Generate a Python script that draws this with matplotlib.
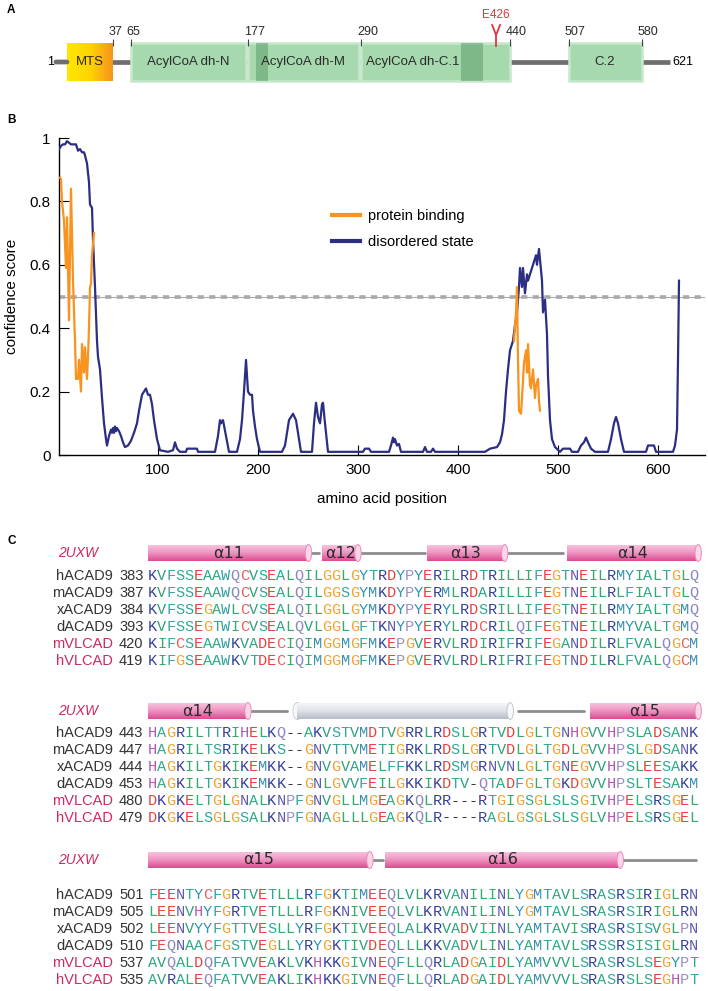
import numpy as np
import matplotlib
matplotlib.use('Agg')
import matplotlib.pyplot as plt
from matplotlib.patches import Rectangle, Ellipse
from matplotlib.lines import Line2D
from matplotlib.colors import LinearSegmentedColormap

plt.rcParams['font.family'] = ['Liberation Sans', 'DejaVu Sans']

# ---------------- panel A data ----------------
dom_names = ['MTS', 'AcylCoA dh-N', 'AcylCoA dh-M', 'AcylCoA dh-C.1', 'C.2']
dom_start = [1, 65, 177, 290, 507]
dom_end = [37, 175, 288, 440, 580]
dom_label_at = [19, 120, 232, 342, 543]
dark_start = [185, 391]
dark_end = [197, 413]
boundary_ticks = [37, 65, 177, 290, 440, 507, 580]
protein_len = 621
mut_pos = 426
mut_label = 'E426'

# ---------------- panel B data ----------------
dis_pos = [1, 3, 5, 7, 9, 11, 13, 16, 18, 20, 22, 24, 26, 27, 29, 30, 31, 32, 34, 35,
           37, 39, 40, 42, 44, 46, 48, 49, 51, 53, 54, 55, 56, 57, 58, 59, 61, 63, 65, 67,
           70, 73, 76, 79, 81, 84, 86, 88, 90, 92, 94, 96, 99, 102, 110, 115, 117, 119, 122, 128,
           129, 139, 140, 157, 160, 162, 163, 165, 168, 171, 179, 182, 184, 186, 188, 189, 190, 192, 194, 195,
           197, 199, 202, 224, 227, 231, 235, 238, 241, 243, 254, 256, 258, 260, 262, 264, 265, 267, 270, 305,
           307, 311, 313, 331, 333, 335, 336, 337, 339, 341, 343, 365, 367, 369, 373, 375, 377, 427, 432, 439,
           442, 444, 446, 448, 450, 452, 455, 457, 459, 461, 462, 464, 465, 467, 469, 470, 472, 474, 476, 478,
           479, 481, 484, 485, 487, 489, 490, 492, 494, 497, 502, 505, 512, 514, 520, 523, 526, 528, 530, 533,
           537, 550, 553, 556, 558, 560, 563, 566, 588, 590, 596, 598, 615, 617, 619, 620, 621]
dis_val = [0.965, 0.975, 0.98, 0.98, 0.99, 0.985, 0.98, 0.98, 0.98, 0.96, 0.965, 0.955, 0.955, 0.945, 0.92, 0.89, 0.86, 0.79, 0.78, 0.68,
           0.53, 0.36, 0.31, 0.27, 0.18, 0.10, 0.05, 0.03, 0.06, 0.08, 0.07, 0.085, 0.07, 0.09, 0.075, 0.085, 0.075, 0.06, 0.04, 0.025,
           0.03, 0.045, 0.07, 0.10, 0.14, 0.19, 0.20, 0.21, 0.19, 0.19, 0.16, 0.11, 0.05, 0.015, 0.01, 0.015, 0.04, 0.02, 0.01, 0.01,
           0.02, 0.02, 0.01, 0.01, 0.06, 0.11, 0.10, 0.11, 0.06, 0.01, 0.01, 0.05, 0.11, 0.20, 0.30, 0.25, 0.20, 0.19, 0.19, 0.14,
           0.09, 0.05, 0.01, 0.01, 0.03, 0.11, 0.13, 0.11, 0.05, 0.01, 0.01, 0.10, 0.165, 0.12, 0.10, 0.16, 0.165, 0.10, 0.01, 0.01,
           0.02, 0.02, 0.01, 0.01, 0.03, 0.055, 0.04, 0.05, 0.03, 0.035, 0.01, 0.01, 0.025, 0.01, 0.01, 0.02, 0.01, 0.01, 0.02, 0.025,
           0.04, 0.065, 0.11, 0.20, 0.27, 0.33, 0.36, 0.41, 0.45, 0.53, 0.59, 0.53, 0.59, 0.51, 0.57, 0.55, 0.57, 0.59, 0.61, 0.63,
           0.60, 0.65, 0.55, 0.45, 0.49, 0.38, 0.25, 0.11, 0.05, 0.025, 0.01, 0.02, 0.02, 0.01, 0.01, 0.03, 0.04, 0.055, 0.04, 0.02,
           0.01, 0.01, 0.05, 0.10, 0.12, 0.10, 0.05, 0.01, 0.01, 0.03, 0.03, 0.01, 0.01, 0.03, 0.08, 0.30, 0.55]

bind_n_pos = [2, 3, 4, 6, 8, 9, 10, 11, 12, 13, 15, 17, 18, 20, 21, 23, 24, 26, 27, 29, 30, 31, 32, 33, 34, 36]
bind_n_val = [0.875, 0.87, 0.80, 0.74, 0.59, 0.75, 0.59, 0.425, 0.64, 0.84, 0.55, 0.36, 0.24, 0.24, 0.30, 0.20,
              0.35, 0.26, 0.34, 0.24, 0.31, 0.40, 0.53, 0.54, 0.63, 0.70]
bind_c_pos = [456, 458, 459, 460, 461, 463, 464, 466, 468, 469, 470, 472, 473, 475, 477, 478, 480, 481, 482]
bind_c_val = [0.36, 0.45, 0.53, 0.30, 0.14, 0.13, 0.18, 0.29, 0.33, 0.26, 0.35, 0.22, 0.21, 0.27, 0.18, 0.22,
              0.24, 0.17, 0.14]
threshold = 0.5

# ---------------- panel C data ----------------
seq_names = ['hACAD9', 'mACAD9', 'xACAD9', 'dACAD9', 'mVLCAD', 'hVLCAD']
block1_start = [383, 387, 384, 393, 420, 419]
block1_seqs = ['KVFSSEAAWQCVSEALQILGGLGYTRDYPYERILRDTRILLIFEGTNEILRMYIALTGLQ',
               'KVFSSEAAWQCVSEALQILGGSGYMKDYPYERMLRDARILLIFEGTNEILRLFIALTGLQ',
               'KVFSSEGAWLCVSEALQILGGLGYMKDYPYERYLRDSRILLIFEGTNEILRMYIALTGMQ',
               'KVFSSEGTWICVSEALQVLGGLGFTKNYPYERYLRDCRILQIFEGTNEILRMYVALTGMQ',
               'KIFCSEAAWKVADECIQIMGGMGFMKEPGVERVLRDIRIFRIFEGANDILRLFVALQGCM',
               'KIFGSEAAWKVTDECIQIMGGMGFMKEPGVERVLRDLRIFRIFEGTNDILRLFVALQGCM']
block2_start = [443, 447, 444, 453, 480, 479]
block2_seqs = ['HAGRILTTRIHELKQ--AKVSTVMDTVGRRLRDSLGRTVDLGLTGNHGVVHPSLADSANK',
               'HAGRILTSRIKELKS--GNVTTVMETIGRKLRDSLGRTVDLGLTGDLGVVHPSLGDSANK',
               'HAGKILTGKIKEMKK--GNVGVAMELFFKKLRDSMGRNVNLGLTGNEGVVHPSLEESAKK',
               'HAGKILTGKIKEMKK--GNLGVVFEILGKKIKDTV-QTADFGLTGKDGVVHPSLTESAKM',
               'DKGKELTGLGNALKNPFGNVGLLMGEAGKQLRR---RTGIGSGLSLSGIVHPELSRSGEL',
               'DKGKELSGLGSALKNPFGNAGLLLGEAGKQLR----RAGLGSGLSLSGLVHPELSRSGEL']
block3_start = [501, 505, 502, 510, 537, 535]
block3_seqs = ['FEENTYCFGRTVETLLLRFGKTIMEEQLVLKRVANILINLYGMTAVLSRASRSIRIGLRN',
               'LEENVHYFGRTVETLLLRFGKNIVEEQLVLKRVANILINLYGMTAVLSRASRSIRIGLRN',
               'LEENVYYFGTTVESLLYRFGKTIVEEQLALKRVADVIINLYAMTAVISRASRSISVGLPN',
               'FEQNAACFGSTVEGLLYRYGKTIVDEQLLLKKVADVLINLYAMTAVLSRSSRSISIGLRN',
               'AVQALDQFATVVEAKLVKHKKGIVNEQFLLQRLADGAIDLYAMVVVLSRASRSLSEGYPT',
               'AVRALEQFATVVEAKLIKHKKGIVNEQFLLQRLADGAIDLYAMVVVLSRASRSLSEGHPT']
# secondary structure of 2UXW: (label, first column, last column, kind)
block1_ss = [('α11', 0, 17.5, 'h'), ('', 17.5, 18.9, 'c'), ('α12', 19.0, 22.9, 'h'),
             ('', 22.9, 30.4, 'c'), ('α13', 30.4, 38.9, 'h'), ('', 38.9, 45.5, 'c'),
             ('α14', 45.7, 60, 'h')]
block2_ss = [('α14', 0, 10.9, 'h'), ('', 10.9, 15.4, 'c'), ('', 16.3, 39.5, 'g'),
             ('', 40.0, 47.8, 'c'), ('α15', 48.2, 60, 'h')]
block3_ss = [('α15', 0, 24.2, 'h'), ('', 24.2, 25.8, 'c'), ('α16', 25.8, 51.5, 'h'),
             ('', 51.5, 60, 'c')]

aa_colors = {'K': '#34419b', 'R': '#34419b', 'E': '#e8413c', 'D': '#e8413c',
             'G': '#f2a431', 'P': '#9a8fc8', 'H': '#b556b4', 'Q': '#8a86c4',
             'N': '#5e5cb0', 'S': '#30a898', 'T': '#30a898', 'A': '#2eaa86',
             'V': '#2f9f7c', 'I': '#33ab6c', 'L': '#33ab6c', 'M': '#3a8eb0',
             'F': '#34a6a6', 'W': '#2e9fa0', 'Y': '#3096b4', 'C': '#e6625e',
             '-': '#333333'}

W, H = 708, 991
fig = plt.figure(figsize=(W / 100, H / 100), dpi=100)

# ================= A =================
# schematic (not to scale) position of residues along the domain bar
res_anchor = [-200, 1, 37, 65, 177, 290, 440, 507, 580, 621, 900]
px_anchor = [-190, 67, 113, 131, 248, 361, 510, 569, 642, 670, 861]


def fwd(r):
    return np.interp(r, res_anchor, px_anchor)


def inv(p):
    return np.interp(p, px_anchor, res_anchor)


axA = fig.add_axes([0, 1 - 90 / H, 1, 90 / H])
axA.set_xscale('function', functions=(fwd, inv))
axA.set_xlim(inv(0), inv(W))
axA.set_ylim(90, 0)
axA.axis('off')

narrow = ['Liberation Sans Narrow', 'Liberation Sans', 'DejaVu Sans']
bar_y, box_top, box_h = 62, 43, 38
grey_bar = '#6e6e6e'
axA.plot([1, protein_len], [bar_y, bar_y], color=grey_bar, lw=3.4, solid_capstyle='butt', zorder=1)
axA.annotate('', xy=(1, bar_y), xytext=(-8, 0), textcoords='offset points',
             arrowprops=dict(arrowstyle='-', lw=3.4, color=grey_bar, shrinkA=0, shrinkB=0))
mts_cmap = LinearSegmentedColormap.from_list('mts', ['#ffe600', '#ffd400', '#f7941d'])
for name, s, e, lx in zip(dom_names, dom_start, dom_end, dom_label_at):
    if name == 'MTS':
        for r in range(s, e):
            axA.add_patch(Rectangle((r, box_top), 1, box_h, facecolor=mts_cmap((r - s) / (e - s - 1)),
                                    edgecolor='none', zorder=2))
    else:
        axA.add_patch(Rectangle((s, box_top), e - s, box_h, facecolor='#a6d9ae', edgecolor='#c8e8cc',
                                lw=1.8, zorder=2))
    axA.text(lx, bar_y, name, ha='center', va='center', fontsize=9.5, family=narrow,
             color='#2a2a2a', zorder=4)
for s, e in zip(dark_start, dark_end):
    axA.add_patch(Rectangle((s, box_top), e - s, box_h, facecolor='#5e9d6c', alpha=0.55, lw=0, zorder=3))
axA.vlines(boundary_ticks, 39, 46, color='#444444', lw=0.8, zorder=5)
for t in boundary_ticks:
    axA.annotate(str(t), (t, 38), xytext=(-3, 0), textcoords='offset points', ha='left', va='bottom',
                 fontsize=9, family=narrow, color='#2a2a2a')
axA.annotate('1', (1, bar_y), xytext=(-9, 0), textcoords='offset points', ha='right', va='center',
             fontsize=9, family=narrow)
axA.annotate(str(protein_len), (protein_len, bar_y), xytext=(2, 0), textcoords='offset points',
             ha='left', va='center', fontsize=9, family=narrow)
red = '#e3343f'
axA.plot([mut_pos - 4, mut_pos, mut_pos + 4], [25, 35, 25], color=red, lw=1.3, zorder=6)
axA.plot([mut_pos, mut_pos], [35, 46], color=red, lw=1.3, zorder=6)
axA.text(mut_pos, 15, mut_label, ha='center', va='center', fontsize=8.5, family=narrow, color=red)

# ================= B =================
axB = fig.add_axes([59 / W, 1 - 455 / H, 646 / W, 317 / H])
blue = '#2b2e83'
orange = '#f7931e'
axB.axhline(threshold, color='#a9a9a9', lw=0.8, zorder=1)
axB.axhline(threshold, color='#a9a9a9', lw=2.6, dashes=(1.7, 1.5), zorder=1)
axB.plot(dis_pos, dis_val, color=blue, lw=1.6, zorder=3)
axB.plot(bind_n_pos, bind_n_val, color=orange, lw=1.6, zorder=4)
axB.plot(bind_c_pos, bind_c_val, color=orange, lw=1.6, zorder=4)
axB.set_xlim(1, 647)
axB.set_ylim(0, 1)
axB.spines[['top', 'right']].set_visible(False)
axB.spines[['left', 'bottom']].set_linewidth(1.0)
axB.set_xticks([100, 200, 300, 400, 500, 600])
axB.set_yticks([0, 0.2, 0.4, 0.6, 0.8, 1])
axB.set_yticklabels(['0', '0.2', '0.4', '0.6', '0.8', '1'])
axB.tick_params(direction='in', length=7, width=0.8, labelsize=11, pad=6)
axB.set_xlabel('amino acid position', fontsize=11)
axB.xaxis.set_label_coords(0.5, -0.118)
axB.set_ylabel('confidence score', fontsize=11)
axB.yaxis.set_label_coords(-0.062, 0.5)
handles = [Line2D([], [], color=orange, lw=3), Line2D([], [], color=blue, lw=3)]
axB.legend(handles, ['protein binding', 'disordered state'], loc='upper left',
           bbox_to_anchor=(0.4226, 0.776), frameon=False, fontsize=10.5, handlelength=1.9,
           handletextpad=0.55, labelspacing=0.8, borderpad=0, borderaxespad=0)

# ================= C =================
step = 9.17
x0 = 148
axC = fig.add_axes([0, 0, 1, 1 - 530 / H])
axC.set_xlim(-x0 / step, (W - x0) / step)
axC.set_ylim(H, 530)
axC.axis('off')

pink_cmap = LinearSegmentedColormap.from_list('pk', ['#f8c8e0', '#ef95c3', '#dc4b91'])
grey_cmap = LinearSegmentedColormap.from_list('gy', ['#f6f7f9', '#e0e4e9', '#b6bdc8'])
grad = np.linspace(0, 1, 64).reshape(-1, 1)


def cylinder(ax, a, b, yc, h, cmap, cap_face, cap_edge, label, round_left=False):
    rect = Rectangle((a, yc - h / 2), b - a, h, facecolor='none', edgecolor='none')
    ax.add_patch(rect)
    im = ax.imshow(grad, cmap=cmap, extent=(a, b, yc + h / 2, yc - h / 2), aspect='auto',
                   interpolation='bilinear', zorder=2)
    im.set_clip_path(rect)
    if round_left:
        ax.add_patch(Ellipse((a, yc), 1.0, h, facecolor=cap_face, edgecolor=cap_edge, lw=0.6, zorder=1))
    ax.add_patch(Ellipse((b, yc), 0.7, h, facecolor=cap_face, edgecolor=cap_edge, lw=0.7, zorder=3))
    if label:
        ax.text((a + b) / 2, yc, label, ha='center', va='center', fontsize=11.5,
                family='DejaVu Sans', color='#2a2a2a', zorder=4)


blocks = [(block1_start, block1_seqs, block1_ss, 553, 576, 17.0),
          (block2_start, block2_seqs, block2_ss, 711, 733, 16.9),
          (block3_start, block3_seqs, block3_ss, 860, 895, 17.0)]
name_x = (113 - x0) / step
num_x = (119 - x0) / step
tag_x = (98 - x0) / step
crimson = '#cc2a5f'
for starts, seqs, ss, hy, ry, dy in blocks:
    axC.text(tag_x, hy, '2UXW', ha='right', va='center', fontsize=10, style='italic', color=crimson)
    for label, a, b, kind in ss:
        if kind == 'h':
            cylinder(axC, a, b, hy, 17, pink_cmap, '#f9d6e8', '#e98cbc', label)
        elif kind == 'g':
            cylinder(axC, a, b, hy, 17, grey_cmap, '#f7f8fa', '#c2c8d0', label, round_left=True)
        else:
            axC.plot([a + 0.3, b - 0.2], [hy, hy], color='#8c8c8c', lw=2.0, solid_capstyle='round', zorder=1)
    for j, (name, st, seq) in enumerate(zip(seq_names, starts, seqs)):
        y = ry + j * dy
        ncol = crimson if 'VLCAD' in name else '#333333'
        axC.text(name_x, y, name, ha='right', va='center', fontsize=10.5, color=ncol)
        axC.text(num_x, y, str(st), ha='left', va='center', fontsize=10.5, color='#333333')
        for i, ch in enumerate(seq):
            axC.text(i + 0.5, y, ch, ha='center', va='center', fontsize=11,
                     family='Liberation Mono', color=aa_colors[ch])

axC.set_xlim(-x0 / step, (W - x0) / step)
axC.set_ylim(H, 530)

for lab, yy in [('A', 10), ('B', 120), ('C', 541)]:
    fig.text(7 / W, 1 - yy / H, lab, fontsize=8.5, fontweight='bold', va='center', ha='left')

fig.savefig('out.png', dpi=100)
